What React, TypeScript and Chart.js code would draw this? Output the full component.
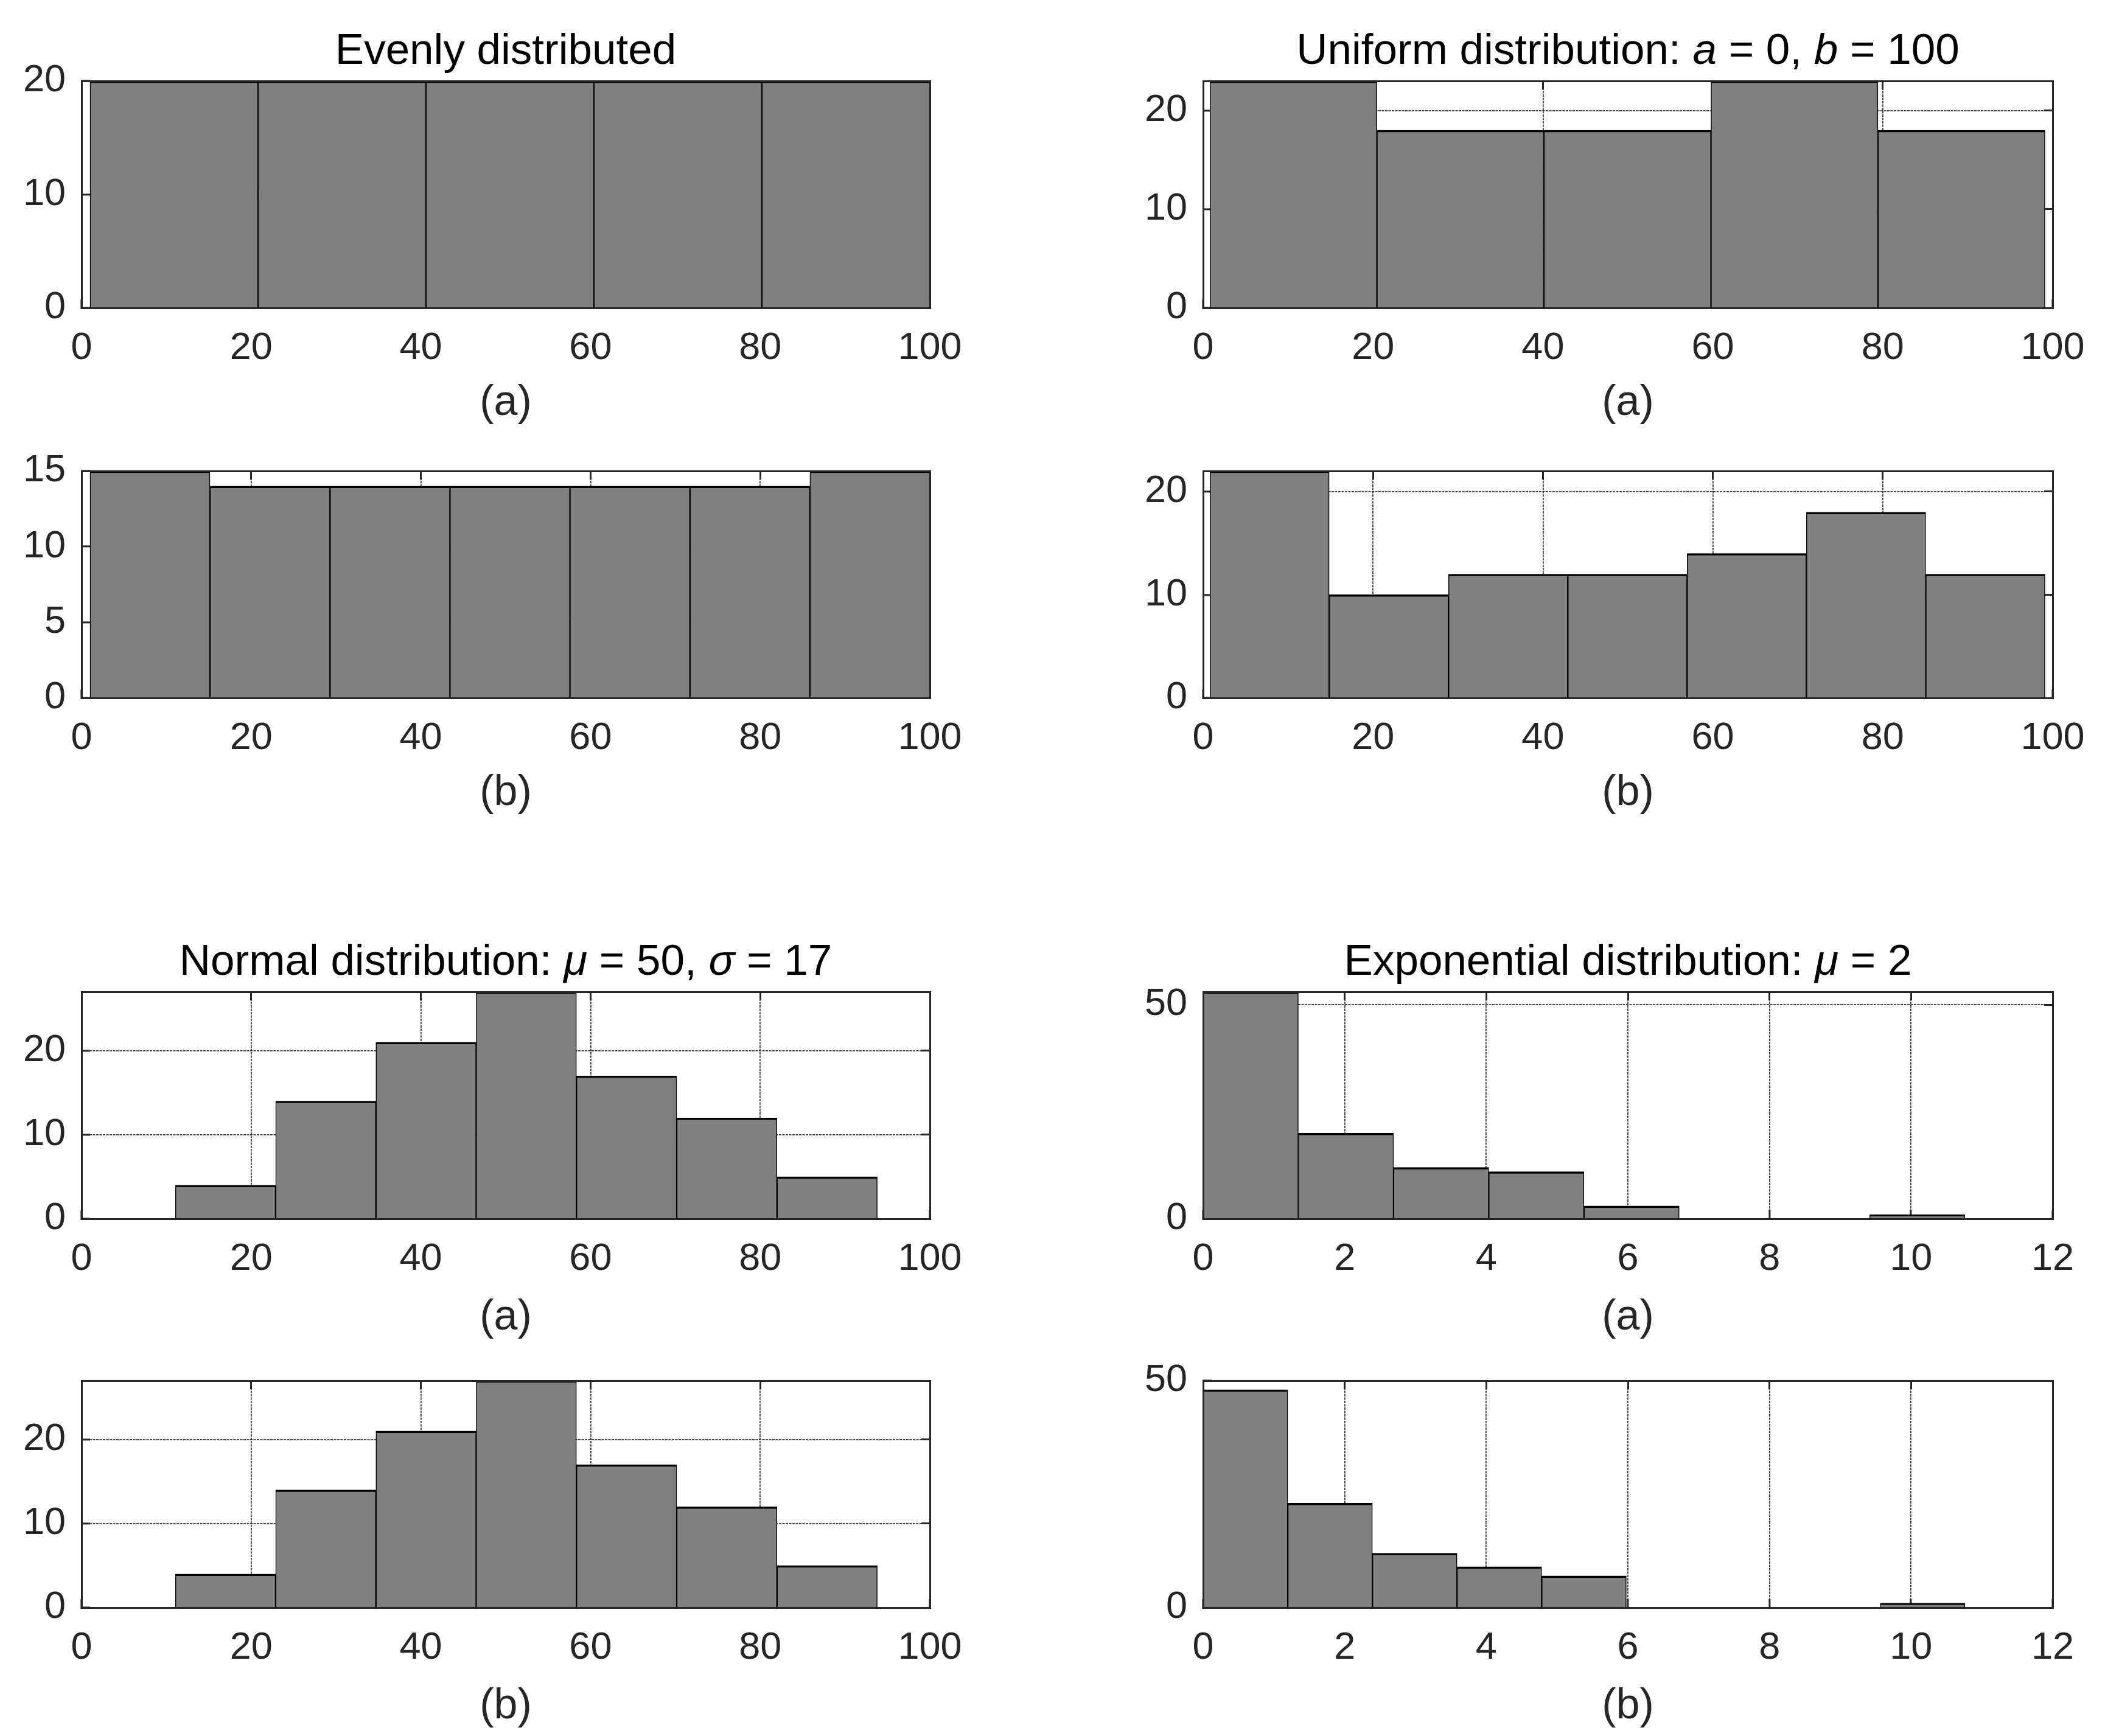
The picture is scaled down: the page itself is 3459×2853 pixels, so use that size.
import React, { useEffect, useRef } from 'react';
import { Chart, registerables } from 'chart.js';

Chart.register(...registerables);

const FONT = "'Liberation Sans', Arial, Helvetica, sans-serif";

// ---- data (bin edges and counts) ----
const evenEdgesA = [1, 20.8, 40.6, 60.4, 80.2, 100];
const evenCountsA = [20, 20, 20, 20, 20];
const evenEdgesB = [1, 15.14, 29.29, 43.43, 57.57, 71.71, 85.86, 100];
const evenCountsB = [15, 14, 14, 14, 14, 14, 15];

const unifEdgesA = [0.8, 20.46, 40.12, 59.78, 79.44, 99.1];
const unifCountsA = [23, 18, 18, 23, 18];
const unifEdgesB = [0.8, 14.84, 28.89, 42.93, 56.97, 71.01, 85.06, 99.1];
const unifCountsB = [22, 10, 12, 12, 14, 18, 12];

const normEdgesA = [11.06, 22.88, 34.7, 46.52, 58.34, 70.16, 81.98, 93.8];
const normCountsA = [4, 14, 21, 27, 17, 12, 5];
const normEdgesB = [11.06, 22.88, 34.7, 46.52, 58.34, 70.16, 81.98, 93.8];
const normCountsB = [4, 14, 21, 27, 17, 12, 5];

const expEdgesA = [0, 1.345, 2.69, 4.035, 5.38, 6.725, 8.07, 9.415, 10.76];
const expCountsA = [53, 20, 12, 11, 3, 0, 0, 1];
const expEdgesB = [0, 1.196, 2.391, 3.587, 4.782, 5.978, 7.173, 8.369, 9.564, 10.76];
const expCountsB = [48, 23, 12, 9, 7, 0, 0, 0, 1];

// ---- ticks / limits ----
const xTicks100 = [0, 20, 40, 60, 80, 100];
const xTicks12 = [0, 2, 4, 6, 8, 10, 12];
const yTicks20 = [0, 10, 20];
const yTicks15 = [0, 5, 10, 15];
const yTicks50 = [0, 50];
const yLimits = [20, 23, 15, 22, 27, 53, 27, 50];
const xLabels = ['(a)', '(a)', '(b)', '(b)', '(a)', '(a)', '(b)', '(b)'];

// ---- layout (plot-area rectangles in page pixels) ----
const COLS = [
  { left: 134, width: 1394 },
  { left: 1977, width: 1396 },
];
const ROW_TOPS = [133, 774, 1630, 2269];
const ROW_LABEL_PAD = [8, 8, 2, 2];
const PLOT_H = 373;

const YW = 134; // y-axis box width
const TP = 95; // top padding (must exceed y-axis label overflow)
const RP = 115; // right padding (must exceed x-axis label overflow)
const XH = 200; // x-axis box height

const AXIS = '#262626';
const GRID = 'rgba(38,38,38,0.9)';

interface Panel {
  edges: number[];
  counts: number[];
  xMax: number;
  yMax: number;
  xTicks: number[];
  yTicks: number[];
  label: string;
  col: number;
  row: number;
}

const panels: Panel[] = [
  { edges: evenEdgesA, counts: evenCountsA, xMax: 100, yMax: yLimits[0], xTicks: xTicks100, yTicks: yTicks20, label: xLabels[0], col: 0, row: 0 },
  { edges: unifEdgesA, counts: unifCountsA, xMax: 100, yMax: yLimits[1], xTicks: xTicks100, yTicks: yTicks20, label: xLabels[1], col: 1, row: 0 },
  { edges: evenEdgesB, counts: evenCountsB, xMax: 100, yMax: yLimits[2], xTicks: xTicks100, yTicks: yTicks15, label: xLabels[2], col: 0, row: 1 },
  { edges: unifEdgesB, counts: unifCountsB, xMax: 100, yMax: yLimits[3], xTicks: xTicks100, yTicks: yTicks20, label: xLabels[3], col: 1, row: 1 },
  { edges: normEdgesA, counts: normCountsA, xMax: 100, yMax: yLimits[4], xTicks: xTicks100, yTicks: yTicks20, label: xLabels[4], col: 0, row: 2 },
  { edges: expEdgesA, counts: expCountsA, xMax: 12, yMax: yLimits[5], xTicks: xTicks12, yTicks: yTicks50, label: xLabels[5], col: 1, row: 2 },
  { edges: normEdgesB, counts: normCountsB, xMax: 100, yMax: yLimits[6], xTicks: xTicks100, yTicks: yTicks20, label: xLabels[6], col: 0, row: 3 },
  { edges: expEdgesB, counts: expCountsB, xMax: 12, yMax: yLimits[7], xTicks: xTicks12, yTicks: yTicks50, label: xLabels[7], col: 1, row: 3 },
];

const titles: { col: number; row: number; content: React.ReactNode }[] = [
  { col: 0, row: 0, content: <>Evenly distributed</> },
  { col: 1, row: 0, content: <>Uniform distribution: <i>a</i> = 0, <i>b</i> = 100</> },
  { col: 0, row: 2, content: <>Normal distribution: <i>μ</i> = 50, <i>σ</i> = 17</> },
  { col: 1, row: 2, content: <>Exponential distribution: <i>μ</i> = 2</> },
];

const setTicks = (vals: number[]) => (scale: any) => {
  scale.ticks = vals.map((v) => ({ value: v }));
};

function Hist({ p }: { p: Panel }) {
  const ref = useRef<HTMLCanvasElement>(null);
  const col = COLS[p.col];
  const W = col.width + YW + RP;
  const H = PLOT_H + TP + XH;
  const left = col.left - YW;
  const top = ROW_TOPS[p.row] - TP;

  useEffect(() => {
    if (!ref.current) return;
    const centers = p.counts.map((_, i) => (p.edges[i] + p.edges[i + 1]) / 2);
    const tickFont = { size: 63, family: FONT };
    const innerTicks = {
      drawTicks: true,
      tickLength: -14,
      tickWidth: 3,
      tickColor: AXIS,
      tickBorderDash: [],
      offset: false,
    };
    const chart = new Chart(ref.current, {
      type: 'bar',
      data: {
        datasets: [
          {
            data: centers.map((c, i) => ({ x: c, y: p.counts[i] })),
            backgroundColor: '#808080',
            borderColor: '#000000',
            borderWidth: { top: 3.5, left: 1.5, right: 1.5, bottom: 0 },
            barPercentage: 1,
            categoryPercentage: 1,
            xAxisID: 'x',
            yAxisID: 'y',
          } as any,
        ],
      },
      options: {
        animation: false,
        responsive: false,
        devicePixelRatio: 1,
        layout: { padding: { left: 0, top: TP, right: RP, bottom: 0 } },
        plugins: {
          legend: { display: false },
          tooltip: { enabled: false },
          title: { display: false },
        },
        scales: {
          x: {
            type: 'linear',
            position: 'bottom',
            min: 0,
            max: p.xMax,
            offset: false,
            afterBuildTicks: setTicks(p.xTicks),
            afterFit: (s: any) => {
              s.height = XH;
            },
            grid: { display: true, drawOnChartArea: true, color: GRID, lineWidth: 1.8, ...innerTicks },
            border: { display: true, color: AXIS, width: 3, dash: [4, 1.5], z: 1 },
            ticks: {
              padding: 43,
              color: AXIS,
              font: tickFont,
              maxRotation: 0,
              autoSkip: false,
              callback: (v: any) => String(v),
            },
            title: {
              display: true,
              text: p.label,
              color: AXIS,
              font: { size: 70, family: FONT, lineHeight: 1 },
              padding: { top: 0, bottom: ROW_LABEL_PAD[p.row] },
            },
          },
          y: {
            type: 'linear',
            position: 'left',
            min: 0,
            max: p.yMax,
            offset: false,
            afterBuildTicks: setTicks(p.yTicks),
            afterFit: (s: any) => {
              s.width = YW;
            },
            grid: { display: true, drawOnChartArea: true, color: GRID, lineWidth: 1.8, ...innerTicks },
            border: { display: true, color: AXIS, width: 3, dash: [4, 1.5], z: 1 },
            ticks: {
              padding: 40,
              color: AXIS,
              font: tickFont,
              autoSkip: false,
              callback: (v: any) => String(v),
            },
          },
          x2: {
            type: 'linear',
            position: 'top',
            min: 0,
            max: p.xMax,
            offset: false,
            afterBuildTicks: setTicks(p.xTicks),
            afterFit: (s: any) => {
              s.height = 0;
            },
            grid: { display: true, drawOnChartArea: false, ...innerTicks },
            border: { display: true, color: AXIS, width: 3, z: 1 },
            ticks: { display: false },
          },
          y2: {
            type: 'linear',
            position: 'right',
            min: 0,
            max: p.yMax,
            offset: false,
            afterBuildTicks: setTicks(p.yTicks),
            afterFit: (s: any) => {
              s.width = 0;
            },
            grid: { display: true, drawOnChartArea: false, ...innerTicks },
            border: { display: true, color: AXIS, width: 3, z: 1 },
            ticks: { display: false },
          },
        } as any,
      },
    });
    return () => chart.destroy();
  }, []);

  return (
    <canvas
      ref={ref}
      width={W}
      height={H}
      style={{ position: 'absolute', left, top, width: W, height: H }}
    />
  );
}

export default function App() {
  return (
    <div
      style={{
        position: 'absolute',
        left: 0,
        top: 0,
        width: 3459,
        height: 2853,
        background: '#ffffff',
        overflow: 'hidden',
        fontFamily: FONT,
      }}
    >
      {panels.map((p, i) => (
        <Hist key={i} p={p} />
      ))}
      {titles.map((t, i) => (
        <div
          key={'t' + i}
          style={{
            position: 'absolute',
            left: COLS[t.col].left,
            width: COLS[t.col].width,
            top: ROW_TOPS[t.row] - 88,
            textAlign: 'center',
            fontSize: 71,
            lineHeight: '71px',
            color: '#000000',
            whiteSpace: 'nowrap',
          }}
        >
          {t.content}
        </div>
      ))}
    </div>
  );
}
